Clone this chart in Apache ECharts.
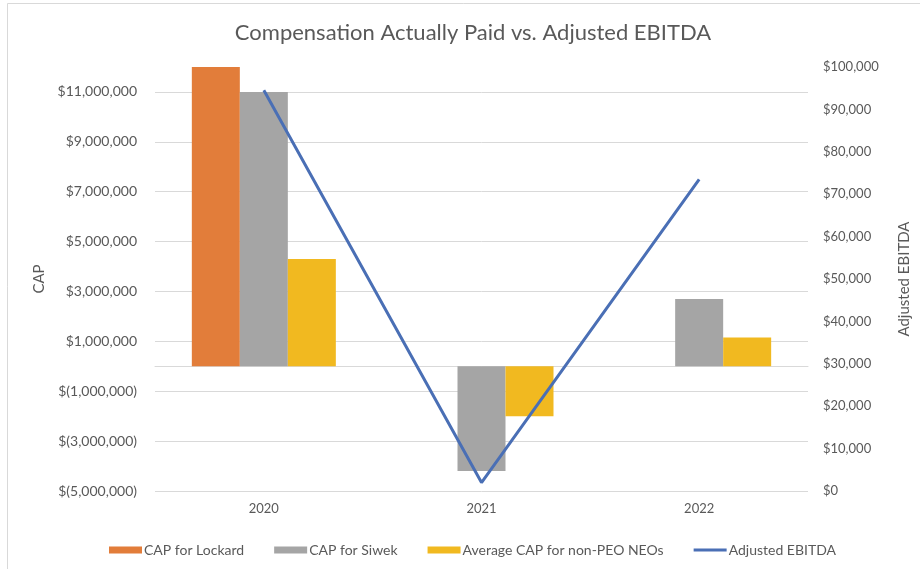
<!DOCTYPE html>
<html>
<head>
<meta charset="utf-8">
<script src="https://cdn.jsdelivr.net/npm/echarts@6/dist/echarts.min.js"></script>
<style>html,body{margin:0;padding:0;background:#fff}#c{width:920px;height:569px}</style>
</head>
<body>
<div id="c"></div>
<script>
var categories = ['2020', '2021', '2022'];
var capLockard = [12000000, null, null];
var capSiwek = [11000000, -4200000, 2700000];
var capAvgNeo = [4300000, -2000000, 1150000];
var adjEbitda = [94500, 2000, 73500];
var seriesNames = ['CAP for Lockard', 'CAP for Siwek', 'Average CAP for non-PEO NEOs', 'Adjusted EBITDA'];

var FONT = 'Lato, "Open Sans", sans-serif';
var TXT = '#595959';

function fmtLeft(v) {
  var s = Math.abs(v).toLocaleString('en-US');
  return v < 0 ? '$(' + s + ')' : '$' + s;
}
function fmtRight(v) { return '$' + v.toLocaleString('en-US'); }

var chart = echarts.init(document.getElementById('c'));
chart.setOption({
  animation: false,
  backgroundColor: '#fff',
  textStyle: { fontFamily: FONT },
  title: {
    text: 'Compensation Actually Paid vs. Adjusted EBITDA',
    left: 468, top: 17, textAlign: 'center',
    textStyle: { fontFamily: FONT, fontSize: 22, fontWeight: 'normal', color: TXT }
  },
  graphic: [
    { type: 'line', shape: { x1: 7.5, y1: 3.5, x2: 7.5, y2: 569 }, style: { stroke: '#D9D9D9', lineWidth: 1 } },
    { type: 'line', shape: { x1: 7.5, y1: 3.5, x2: 920, y2: 3.5 }, style: { stroke: '#D9D9D9', lineWidth: 1 } }
  ],
  legend: {
    left: 104, top: 538,
    itemWidth: 33, itemHeight: 7, itemGap: 30,
    textStyle: { fontFamily: FONT, fontSize: 14, color: TXT, padding: [0, 0, 0, -3] },
    data: [
      { name: seriesNames[0], icon: 'rect' },
      { name: seriesNames[1], icon: 'rect' },
      { name: seriesNames[2], icon: 'rect' },
      { name: seriesNames[3], icon: 'path://M0,0 H33 V3 H0 Z' }
    ]
  },
  grid: { left: 155, right: 112, top: 67, bottom: 78, outerBoundsMode: 'none', containLabel: false },
  xAxis: [
    {
      type: 'category',
      data: categories,
      position: 'bottom',
      axisLine: { onZero: true, lineStyle: { color: '#D9D9D9', width: 1 } },
      axisTick: { show: false },
      axisLabel: { show: false }
    },
    {
      type: 'category',
      data: categories,
      position: 'bottom',
      axisLine: { show: false, onZero: false },
      axisTick: { show: false },
      splitLine: { show: false },
      axisLabel: { margin: 11, fontFamily: FONT, fontSize: 13, color: TXT }
    }
  ],
  yAxis: [
    {
      type: 'value', min: -5000000, max: 12000000, interval: 2000000,
      name: 'CAP', nameLocation: 'middle', nameGap: 108, nameRotate: 90,
      nameTextStyle: { fontFamily: FONT, fontSize: 15, color: TXT },
      axisLine: { show: false }, axisTick: { show: false },
      axisLabel: { formatter: fmtLeft, showMaxLabel: false, margin: 18, fontFamily: FONT, fontSize: 14, color: TXT },
      splitLine: { show: true, showMaxLine: false, lineStyle: { color: '#D9D9D9', width: 1 } }
    },
    {
      type: 'value', min: 0, max: 100000, interval: 10000, position: 'right',
      name: 'Adjusted EBITDA', nameLocation: 'middle', nameGap: 89, nameRotate: 90,
      nameTextStyle: { fontFamily: FONT, fontSize: 15, color: TXT },
      axisLine: { show: false }, axisTick: { show: false },
      axisLabel: { formatter: fmtRight, margin: 15, fontFamily: FONT, fontSize: 13, color: TXT },
      splitLine: { show: false }
    }
  ],
  series: [
    { name: seriesNames[0], type: 'bar', data: capLockard, barWidth: 48, barGap: '0%', itemStyle: { color: '#E27D3A' } },
    { name: seriesNames[1], type: 'bar', data: capSiwek, barWidth: 48, barGap: '0%', itemStyle: { color: '#A5A5A5' } },
    { name: seriesNames[2], type: 'bar', data: capAvgNeo, barWidth: 48, barGap: '0%', itemStyle: { color: '#F1B920' } },
    { name: seriesNames[3], type: 'line', yAxisIndex: 1, data: adjEbitda, symbol: 'none',
      lineStyle: { color: '#4A6FB5', width: 3 }, itemStyle: { color: '#4A6FB5' } }
  ]
});
</script>
</body>
</html>
